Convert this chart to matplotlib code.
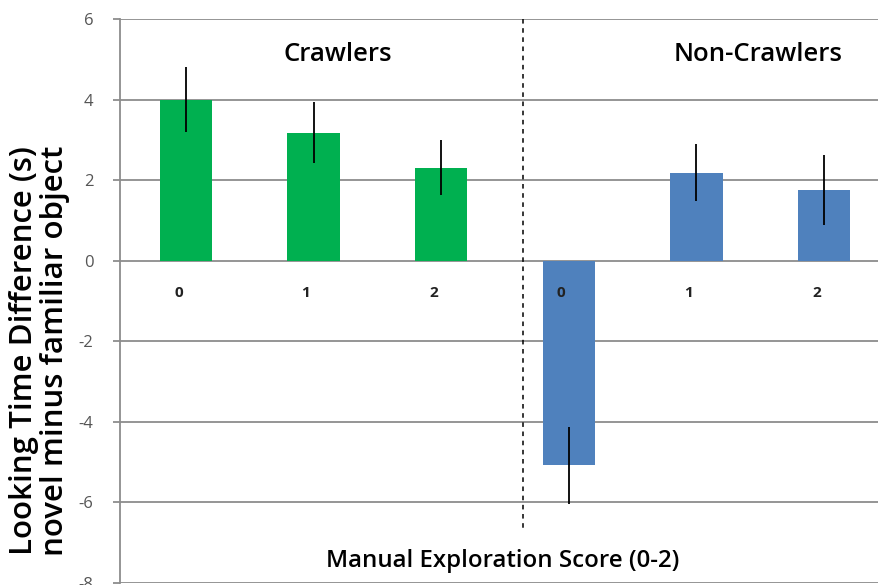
import matplotlib.pyplot as plt

plt.rcParams['font.family'] = ['Open Sans', 'DejaVu Sans']
plt.rcParams['axes.unicode_minus'] = False

groups = ["Crawlers", "Non-Crawlers"]
scores = ["0", "1", "2"]
crawlers = [4.0, 3.18, 2.31]
crawlers_err = [0.8, 0.75, 0.68]
non_crawlers = [-5.08, 2.18, 1.75]
non_crawlers_err = [0.95, 0.71, 0.87]

fig = plt.figure(figsize=(8.79, 5.85), dpi=100)
ax = fig.add_axes([120 / 879, 2 / 585, 1 - 120 / 879, (583 - 19) / 585])

x_c = [0, 1, 2]
x_n = [3, 4, 5]
ax.bar(x_c, crawlers, width=0.41, color="#00B050", zorder=3)
ax.bar(x_n, non_crawlers, width=0.41, color="#4F81BD", zorder=3)
ax.errorbar(x_c, crawlers, yerr=crawlers_err, fmt="none", ecolor="black",
            elinewidth=1.3, capsize=0, zorder=4)
ax.errorbar(x_n, non_crawlers, yerr=non_crawlers_err, fmt="none", ecolor="black",
            elinewidth=1.3, capsize=0, zorder=4)

ax.set_xlim(-0.517, 5.43)
ax.set_ylim(-8, 6)
ax.set_yticks(range(-8, 7, 2))
ax.set_xticks([])
ax.yaxis.grid(True, color="#8c8c8c", linewidth=1.3, zorder=0)
ax.set_axisbelow(True)
for s in ["top", "right", "bottom"]:
    ax.spines[s].set_visible(False)
ax.spines["left"].set_color("#8c8c8c")
ax.spines["left"].set_linewidth(1.3)
ax.tick_params(axis="y", length=5, color="#8c8c8c", width=1.3, pad=14,
               labelsize=12, labelcolor="#555555")

# score labels under the zero line
for i, lab in enumerate(scores + scores):
    ax.text(i - 0.06, -0.8, lab, ha="center", va="center", fontsize=11,
            fontweight="bold", color="#222222", zorder=5)

ax.text(1.19, 5.13, groups[0], ha="center", va="center", fontsize=18.5,
        fontweight="semibold")
ax.text(4.48, 5.13, groups[1], ha="center", va="center", fontsize=18.5,
        fontweight="semibold")

ax.plot([2.64, 2.64], [6, -6.68], color="black", linestyle=(0, (3, 3)),
        linewidth=1.1, zorder=5)

ax.text(2.48, -7.45, "Manual Exploration Score (0-2)", ha="center",
        va="center", fontsize=17.3, fontweight="semibold")

fig.text(0.045, 0.40, "Looking Time Difference (s)\nnovel minus familiar object",
         rotation=90, ha="center", va="center", fontsize=22.5,
         fontweight="semibold", linespacing=1.05)

fig.savefig("out.png", dpi=100)
